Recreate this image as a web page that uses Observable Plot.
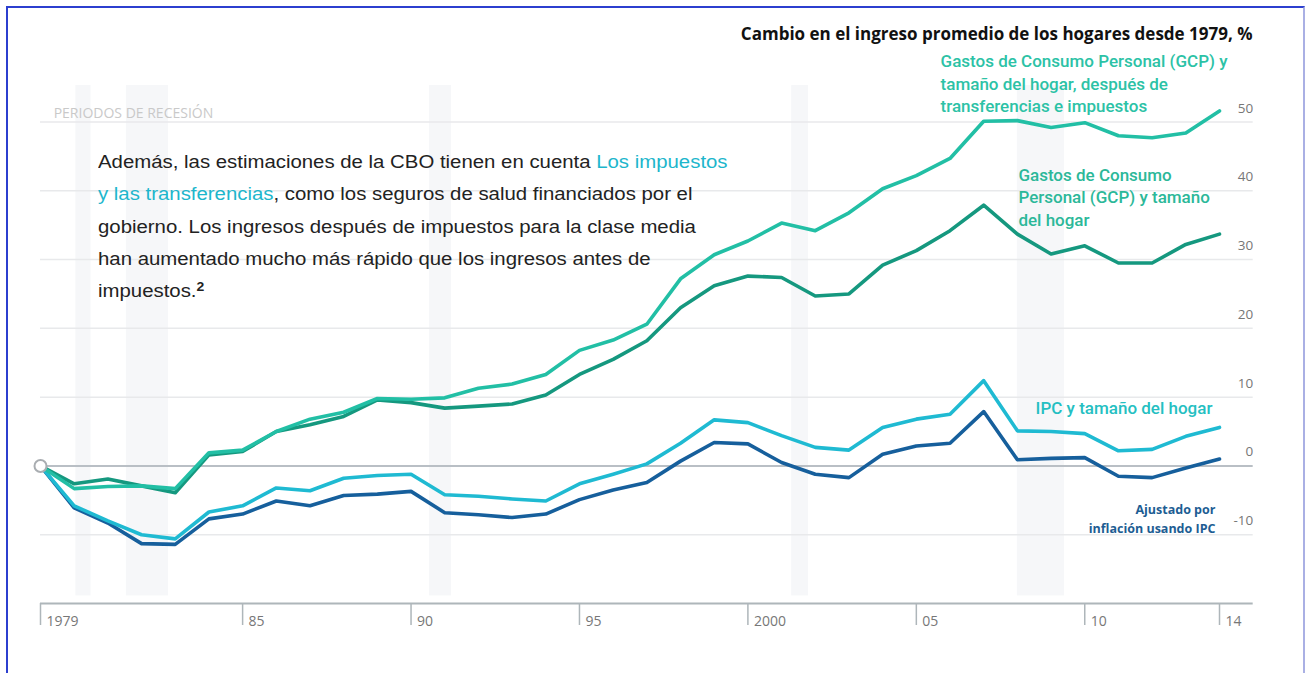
<!DOCTYPE html>
<html>
<head>
<meta charset="utf-8">
<script src="https://cdn.jsdelivr.net/npm/d3@7"></script>
<script src="https://cdn.jsdelivr.net/npm/@observablehq/plot@0.6"></script>
<style>
  html, body { margin: 0; padding: 0; background: #fff; }
  #wrap { position: relative; width: 1309px; height: 673px; overflow: hidden; }
  #frame { position: absolute; left: 6px; top: 6px; width: 1299px; height: 700px;
           border-left: 2px solid #2c3fcf; border-top: 2px solid #2c3fcf; border-right: 2px solid #aab0e4; box-sizing: border-box; pointer-events: none; }
  #note { position: absolute; left: 98px; top: 146px; font-family: "Liberation Sans", Arial, sans-serif;
          font-size: 17.5px; line-height: 32.3px; color: #222; white-space: nowrap;
          transform: scaleX(1.164); transform-origin: 0 0; }
  #note .hl { color: #1db6cc; }
  #note sup { font-size: 12px; font-weight: bold; vertical-align: 6px; line-height: 0; }
</style>
</head>
<body>
<div id="wrap">
  <div id="chart"></div>
  <div id="note">Además, las estimaciones de la CBO tienen en cuenta <span class="hl">Los impuestos</span><br><span class="hl">y las transferencias</span>, como los seguros de salud financiados por el<br>gobierno. Los ingresos después de impuestos para la clase media<br>han aumentado mucho más rápido que los ingresos antes de<br>impuestos.<sup>2</sup></div>
  <div id="frame"></div>
</div>
<script>
// ---- data ----
const years = [1979,1980,1981,1982,1983,1984,1985,1986,1987,1988,1989,1990,1991,1992,1993,1994,1995,1996,1997,1998,1999,2000,2001,2002,2003,2004,2005,2006,2007,2008,2009,2010,2011,2012,2013,2014];
// PCE & household size, after transfers and taxes
const pceAfterTax = [0,-3.3,-3.0,-2.9,-3.3,1.9,2.3,5.0,6.8,7.8,9.8,9.7,9.9,11.3,11.9,13.3,16.8,18.3,20.6,27.2,30.7,32.7,35.3,34.2,36.8,40.3,42.2,44.7,50.1,50.2,49.2,49.9,48.0,47.7,48.4,51.6];
// PCE & household size
const pce = [0,-2.6,-1.9,-2.9,-3.9,1.6,2.1,5.0,6.0,7.2,9.6,9.2,8.4,8.7,9.0,10.3,13.3,15.5,18.2,23.0,26.2,27.6,27.4,24.7,25.0,29.2,31.3,34.2,37.9,33.7,30.8,32.0,29.5,29.5,32.2,33.7];
// CPI & household size
const cpiHousehold = [0,-5.8,-8.0,-10.0,-10.6,-6.7,-5.8,-3.2,-3.6,-1.8,-1.4,-1.2,-4.2,-4.4,-4.8,-5.1,-2.6,-1.2,0.3,3.3,6.7,6.3,4.4,2.7,2.3,5.6,6.8,7.5,12.4,5.1,5.0,4.7,2.2,2.4,4.3,5.6];
// Adjusted for inflation using CPI
const cpiAdjusted = [0,-6.1,-8.3,-11.3,-11.4,-7.7,-7.0,-5.1,-5.8,-4.3,-4.1,-3.7,-6.8,-7.1,-7.5,-7.0,-4.9,-3.5,-2.4,0.7,3.4,3.2,0.5,-1.2,-1.7,1.7,2.9,3.3,7.9,0.9,1.1,1.2,-1.5,-1.7,-0.3,1.0];

const recessionStart = [1980.05,1981.55,1990.55,2001.3,2008.0];
const recessionEnd   = [1980.5,1982.8,1991.2,2001.8,2009.4];

const xTickValues = [1979,1985,1990,1995,2000,2005,2010,2014];
const xTickLabels = ["1979","85","90","95","2000","05","10","14"];
const yTickValues = [50,40,30,20,10,0,-10];
const yTickLabels = ["50","40","30","20","10","0","-10"];

const seriesNames = ["cpiAdjusted","cpiHousehold","pce","pceAfterTax"];
const seriesValues = [cpiAdjusted, cpiHousehold, pce, pceAfterTax];
const seriesColors = ["#165f9c","#1fbad2","#15987f","#22bfa5"];

// ---- build tables ----
const rows = [];
seriesNames.forEach((s, i) => years.forEach((yr, j) => rows.push({series: s, year: yr, value: seriesValues[i][j]})));
const recessions = recessionStart.map((s, i) => ({start: s, end: recessionEnd[i]}));
const xTicks = xTickValues.map((v, i) => ({v, label: xTickLabels[i]}));
const yTicks = yTickValues.map((v, i) => ({v, label: yTickLabels[i]}));

const condensed = "Roboto, 'Liberation Sans Narrow', sans-serif";
const annotations = [
  {x: 2014.98, y: 61.99, text: "Cambio en el ingreso promedio de los hogares desde 1979, %", anchor: "end", fill: "#111", size: 17, weight: 700, font: "'Open Sans', sans-serif", lh: 1, ls: "-0.1px"},
  {x: 2005.72, y: 51.4, text: "Gastos de Consumo Personal (GCP) y\ntamaño del hogar, después de\ntransferencias e impuestos", anchor: "start", fill: "#2cc2a6", size: 17, weight: 500, font: condensed, lh: 1.32, ls: "-0.55px"},
  {x: 2008.03, y: 34.95, text: "Gastos de Consumo\nPersonal (GCP) y tamaño\ndel hogar", anchor: "start", fill: "#2cb899", size: 17, weight: 500, font: condensed, lh: 1.32, ls: "-0.55px"},
  {x: 2013.79, y: 7.62, text: "IPC y tamaño del hogar", anchor: "end", fill: "#25bfc2", size: 17, weight: 500, font: condensed, lh: 1, ls: "-0.5px"},
  {x: 2013.88, y: -9.82, text: "Ajustado por\ninflación usando IPC", anchor: "end", fill: "#1d5d93", size: 12.5, weight: 700, font: "'Open Sans', sans-serif", lh: 1.52, ls: "0px"},
  {x: 1979.39, y: 50.65, text: "PERIODOS DE RECESIÓN", anchor: "start", fill: "#c9c9c9", size: 14, weight: 400, font: "'Open Sans', sans-serif", lh: 1, ls: "0.6px"}
];

const marks = [
  Plot.rect(recessions, {x1: "start", x2: "end", y1: -18.9, y2: 55.3, fill: "#f6f7f9"}),
  Plot.ruleY(yTickValues.filter(v => v !== 0), {y: d => d, x1: 1979, x2: 2015, stroke: "#e8e9eb", strokeWidth: 1.5}),
  Plot.ruleY([0], {x1: 1979, x2: 2015, stroke: "#b9bfc5", strokeWidth: 2}),
  Plot.ruleY([-20], {x1: 1979, x2: 2015, stroke: "#aeb6ba", strokeWidth: 2}),
  Plot.ruleX(xTicks, {x: "v", y1: -20, y2: -23.2, stroke: "#aeb6ba", strokeWidth: 1.5}),
  Plot.text(xTicks, {x: "v", y: -20, text: "label", textAnchor: "start", lineAnchor: "bottom", dx: 6, dy: 22, fill: "#777", fontSize: 14, fontFamily: "'Open Sans', sans-serif"}),
  Plot.text(yTicks, {x: 2015, y: "v", text: "label", textAnchor: "end", lineAnchor: "bottom", dy: -9.5, fill: "#777", fontSize: 13.5, fontFamily: "'Open Sans', sans-serif"}),
  Plot.line(rows, {x: "year", y: "value", z: "series", stroke: d => seriesColors[seriesNames.indexOf(d.series)], strokeWidth: 3.6, strokeLinejoin: "round", strokeLinecap: "round"}),
  Plot.dot([{year: years[0], value: cpiAdjusted[0]}], {x: "year", y: "value", r: 6, fill: "#fff", stroke: "#a9adb1", strokeWidth: 2})
];
annotations.forEach(a => marks.push(Plot.text([a], {
  x: "x", y: "y", text: "text", textAnchor: a.anchor, lineAnchor: "bottom", lineHeight: a.lh,
  fill: a.fill, fontSize: a.size, fontWeight: a.weight, fontFamily: a.font, letterSpacing: a.ls
})));

const chart = Plot.plot({
  width: 1309,
  height: 673,
  marginLeft: 40,
  marginRight: 90,
  marginTop: 121.5,
  marginBottom: 70,
  x: {domain: [1979, 2014], axis: null},
  y: {domain: [-20, 50], axis: null},
  style: {background: "transparent", overflow: "visible"},
  marks
});
document.getElementById("chart").appendChild(chart);
</script>
</body>
</html>
